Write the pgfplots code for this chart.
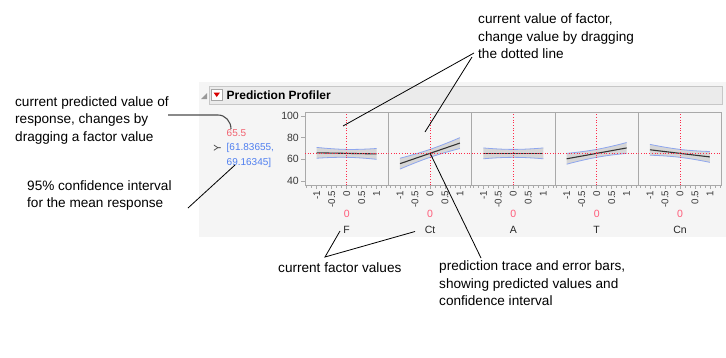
\documentclass[border=0pt]{standalone}
\usepackage{fontspec}
\setmainfont{Liberation Sans}
\usepackage{pgfplots}
\pgfplotsset{compat=1.18}
\usepackage{pgfplotstable}

\definecolor{bandgray}{HTML}{D6D6D6}
\definecolor{bandblue}{HTML}{8EA6EE}
\definecolor{dotred}{HTML}{FF2A4A}
\definecolor{valred}{HTML}{F2606E}
\definecolor{ciblue}{HTML}{4F7FF0}
\definecolor{zerored}{HTML}{FF5C7A}
\definecolor{panelgray}{HTML}{A9A9A9}
\definecolor{bggray}{HTML}{F5F5F5}
\definecolor{hdrgray}{HTML}{EBEBEB}

% mean, upper and lower limits per factor
\pgfplotstableread{
x m u l
-1 66.000 71.000 61.000
-0.75 65.875 70.335 61.415
-0.5 65.750 69.790 61.710
-0.25 65.625 69.385 61.865
0 65.500 69.160 61.840
0.25 65.375 69.135 61.615
0.5 65.250 69.290 61.210
0.75 65.125 69.585 60.665
1 65.000 70.000 60.000
}\Ftab
\pgfplotstableread{
x m u l
-1 56.000 61.000 51.000
-0.75 58.375 62.835 53.915
-0.5 60.750 64.790 56.710
-0.25 63.125 66.885 59.365
0 65.500 69.160 61.840
0.25 67.875 71.635 64.115
0.5 70.250 74.290 66.210
0.75 72.625 77.085 68.165
1 75.000 80.000 70.000
}\Cttab
\pgfplotstableread{
x m u l
-1 65.5 70.50 60.50
-0.75 65.5 69.96 61.04
-0.5 65.5 69.54 61.46
-0.25 65.5 69.26 61.74
0 65.5 69.16 61.84
0.25 65.5 69.26 61.74
0.5 65.5 69.54 61.46
0.75 65.5 69.96 61.04
1 65.5 70.50 60.50
}\Atab
\pgfplotstableread{
x m u l
-1 60.50 65.50 55.50
-0.75 61.75 66.21 57.29
-0.5 63.00 67.04 58.96
-0.25 64.25 68.01 60.49
0 65.50 69.16 61.84
0.25 66.75 70.51 62.99
0.5 68.00 72.04 63.96
0.75 69.25 73.71 64.79
1 70.50 75.50 65.50
}\Ttab
\pgfplotstableread{
x m u l
-1 68.800 73.800 63.800
-0.75 67.975 72.435 63.515
-0.5 67.150 71.190 63.110
-0.25 66.325 70.085 62.565
0 65.500 69.160 61.840
0.25 64.675 68.435 60.915
0.5 63.850 67.890 59.810
0.75 63.025 67.485 58.565
1 62.200 67.200 57.200
}\Cntab

\pgfplotsset{prof/.style={anchor=north west, width=83.3pt, height=72.7pt,
  scale only axis, xmin=-1.39, xmax=1.39, ymin=36.3, ymax=103.4,
  axis line style={panelgray, line width=0.6pt},
  xtick={-1,-0.5,0,0.5,1}, xticklabels={-1,-0.5,0,0.5,1},
  minor xtick={-1.3333,-1.1667,-0.8333,-0.6667,-0.3333,-0.1667,0.1667,0.3333,0.6667,0.8333,1.1667,1.3333},
  xtick pos=bottom, tick align=outside,
  major tick length=4pt, minor tick length=2.5pt,
  every tick/.style={panelgray, line width=0.5pt},
  xticklabel style={rotate=90, anchor=east, font=\fontsize{9.8}{11}\selectfont, text=black!78, inner sep=1.5pt},
  yticklabel style={font=\fontsize{10.5}{12}\selectfont, text=black!78, inner sep=2pt}}}

% #1 x position, #2 table, #3 band polygon, #4 extra options
\newcommand{\panel}[4]{%
\begin{axis}[prof, at={(#1,-112.3pt)}, #4]
\addplot[fill=bandgray, draw=none] coordinates {#3} -- cycle;
\addplot[bandblue, line width=0.8pt, smooth] table[x=x,y=u]{#2};
\addplot[bandblue, line width=0.8pt, smooth] table[x=x,y=l]{#2};
\addplot[black!80, line width=1.1pt] table[x=x,y=m]{#2};
\addplot[dotred, dotted, line width=0.7pt] coordinates {(-1.39,65.5) (1.39,65.5)};
\addplot[dotred, dotted, line width=0.7pt] coordinates {(0,36.3) (0,103.4)};
\end{axis}}

\begin{document}
\begin{tikzpicture}
\useasboundingbox (0,0) rectangle (726pt,-357pt);
\fill[white] (0,0) rectangle (726pt,-357pt);
\begin{scope}[x=1pt,y=-1pt]
\fill[bggray] (199,82) rectangle (726,237);
\filldraw[fill=hdrgray, draw=black!22] (209.5,86.5) rectangle (722,104);
\fill[black!40] (201,99) -- (207,99) -- (207,93) -- cycle;
\filldraw[fill=white, draw=black!35] (211,89.5) rectangle (222.5,100.5);
\fill[red!85!black] (213.5,92.5) -- (220,92.5) -- (216.75,97) -- cycle;
\node[anchor=west, inner sep=0, font=\fontsize{12}{13}\selectfont\bfseries] at (226.5,95.5) {Prediction Profiler};
\node[anchor=west, inner sep=0, text=valred, font=\fontsize{10}{11}\selectfont] at (226.5,133.5) {65.5};
\node[anchor=west, inner sep=0, text=ciblue, font=\fontsize{10}{11}\selectfont] at (226.5,148) {[61.83655,};
\node[anchor=west, inner sep=0, text=ciblue, font=\fontsize{10}{11}\selectfont] at (226.5,162.5) {69.16345]};
\node[rotate=90, inner sep=0, text=black!75, font=\fontsize{10}{11}\selectfont] at (217.5,148) {Y};
\end{scope}

\panel{305pt}{\Ftab}{(-1,71.000) (-0.75,70.335) (-0.5,69.790) (-0.25,69.385) (0,69.160) (0.25,69.135) (0.5,69.290) (0.75,69.585) (1,70.000) (1,60.000) (0.75,60.665) (0.5,61.210) (0.25,61.615) (0,61.840) (-0.25,61.865) (-0.5,61.710) (-0.75,61.415) (-1,61.000)}{ytick={40,60,80,100}, yticklabels={40,60,80,100}, ytick pos=left}
\panel{388.3pt}{\Cttab}{(-1,61.000) (-0.75,62.835) (-0.5,64.790) (-0.25,66.885) (0,69.160) (0.25,71.635) (0.5,74.290) (0.75,77.085) (1,80.000) (1,70.000) (0.75,68.165) (0.5,66.210) (0.25,64.115) (0,61.840) (-0.25,59.365) (-0.5,56.710) (-0.75,53.915) (-1,51.000)}{ytick=\empty}
\panel{471.7pt}{\Atab}{(-1,70.50) (-0.75,69.96) (-0.5,69.54) (-0.25,69.26) (0,69.16) (0.25,69.26) (0.5,69.54) (0.75,69.96) (1,70.50) (1,60.50) (0.75,61.04) (0.5,61.46) (0.25,61.74) (0,61.84) (-0.25,61.74) (-0.5,61.46) (-0.75,61.04) (-1,60.50)}{ytick=\empty}
\panel{555pt}{\Ttab}{(-1,65.50) (-0.75,66.21) (-0.5,67.04) (-0.25,68.01) (0,69.16) (0.25,70.51) (0.5,72.04) (0.75,73.71) (1,75.50) (1,65.50) (0.75,64.79) (0.5,63.96) (0.25,62.99) (0,61.84) (-0.25,60.49) (-0.5,58.96) (-0.75,57.29) (-1,55.50)}{ytick=\empty}
\panel{638.3pt}{\Cntab}{(-1,73.800) (-0.75,72.435) (-0.5,71.190) (-0.25,70.085) (0,69.160) (0.25,68.435) (0.5,67.890) (0.75,67.485) (1,67.200) (1,57.200) (0.75,58.565) (0.5,59.810) (0.25,60.915) (0,61.840) (-0.25,62.565) (-0.5,63.110) (-0.75,63.515) (-1,63.800)}{ytick=\empty}

\begin{scope}[x=1pt,y=-1pt]
\foreach \cx/\nm in {346.7/F, 430/Ct, 513.3/A, 596.7/T, 680/Cn}{
  \node[inner sep=0, text=zerored, font=\fontsize{10.5}{12}\selectfont] at (\cx,214) {0};
  \node[inner sep=0, text=black!85, font=\fontsize{10.5}{12}\selectfont] at (\cx,230) {\nm};
}
\begin{scope}[every node/.style={anchor=base west, inner sep=0, font=\fontsize{13.6}{16}\selectfont}]
\node at (15,106) {current predicted value of};
\node at (15,123.5) {response, changes by};
\node at (15,141) {dragging a factor value};
\node at (27,190) {95\% confidence interval};
\node at (27,207) {for the mean response};
\node at (478,23.5) {current value of factor,};
\node at (478,41) {change value by dragging};
\node at (478,58.5) {the dotted line};
\node at (439,270.5) {prediction trace and error bars,};
\node at (439,288) {showing predicted values and};
\node at (439,305.5) {confidence interval};
\node at (278,272.5) {current factor values};
\end{scope}
\draw[black!70, line width=1.1pt] (168,115) -- (218,115) to[out=0,in=90] (231,129);
\draw[black, line width=0.8pt] (188,208) -- (235,165);
\draw[black, line width=0.8pt] (474,53) -- (343,126);
\draw[black, line width=0.8pt] (472,57) -- (425,132);
\draw[black, line width=0.8pt] (430,153) -- (481,258);
\draw[black, line width=0.8pt] (340,231) -- (325,257) -- (415,231.5);
\end{scope}
\end{tikzpicture}
\end{document}
